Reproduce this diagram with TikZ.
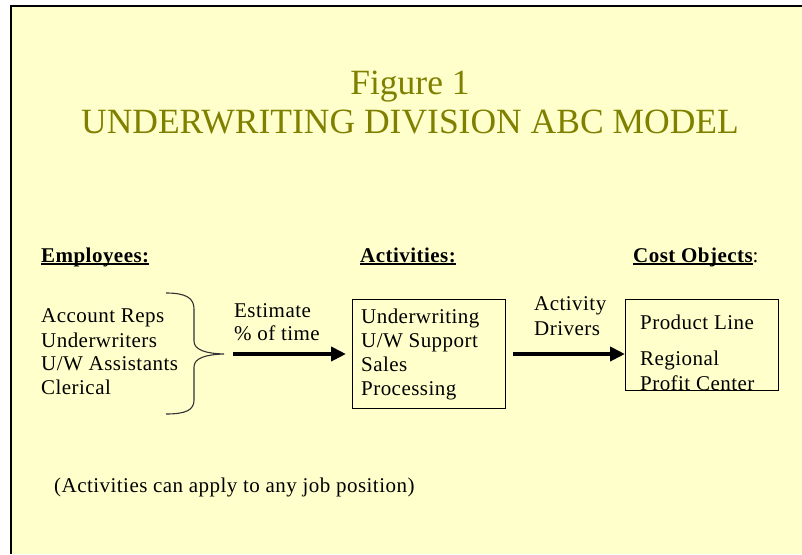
\documentclass[tikz,border=0pt]{standalone}
\usepackage{fontspec}
\setmainfont{Liberation Serif}
\newfontfamily\spacedserif[LetterSpace=2.2]{Liberation Serif}
\usetikzlibrary{arrows.meta}
\definecolor{bgyellow}{HTML}{FFFFCC}
\definecolor{titleolive}{HTML}{808000}
\newcommand\myul[1]{\setbox0\hbox{#1}\rlap{\rule[-2.5pt]{\wd0}{1.6pt}}\box0}
\begin{document}
\begin{tikzpicture}[x=1pt,y=-1pt,
  txt/.style={anchor=base west, inner sep=0pt, font=\spacedserif\fontsize{21}{24}\selectfont, text=black},
  head/.style={anchor=base west, inner sep=0pt, font=\spacedserif\fontsize{21}{24}\selectfont\bfseries, text=black},
  ttl/.style={anchor=base, inner sep=0pt, font=\fontsize{35.5}{40}\selectfont, text=titleolive},
  boxx/.style={draw=black, line width=0.9pt, inner sep=0pt, anchor=north west},
  flow/.style={line width=4pt, -{Triangle[length=15pt,width=14pt]}},
  bracestyle/.style={line width=1.1pt, draw=black!80}
]
\useasboundingbox (0,0) rectangle (802,554);
\fill[white] (0,0) rectangle (802,554);
\fill[bgyellow] (11,6) rectangle (802,554);
\draw[line width=2.5pt] (11,554) -- (11,6) -- (802,6);

% title
\node[ttl] (t1) at (410,94) {Figure 1};
\node[ttl] (t2) at (410,133) {UNDERWRITING DIVISION ABC MODEL};

% headings
\node[head] (h1) at (41,262) {\myul{Employees:}};
\node[head] (h2) at (360,262) {\myul{Activities:}};
\node[head] (h3) at (633,262) {\myul{Cost Objects}\mdseries:};

% employees
\node[txt] (e1) at (41,322) {Account Reps};
\node[txt] (e2) at (41,347) {Underwriters};
\node[txt] (e3) at (41,370) {U/W Assistants};
\node[txt] (e4) at (41,394) {Clerical};

% brace
\coordinate (tip) at (224,354);
\draw[bracestyle] (166,293) .. controls (186,293) and (194,298) .. (194,309)
  -- (194,341) .. controls (194,350) and (206,353.5) .. (tip)
  .. controls (206,354.5) and (194,358) .. (194,367)
  -- (194,400) .. controls (194,410) and (186,414) .. (166,414);

% activities box
\node[boxx, minimum width=153pt, minimum height=109pt] (act) at (352,299) {};
\node[txt] (a1) at (361,323) {Underwriting};
\node[txt] (a2) at (361,347) {U/W Support};
\node[txt] (a3) at (361,371) {Sales};
\node[txt] (a4) at (361,395) {Processing};

% cost objects box
\node[boxx, minimum width=153pt, minimum height=91pt] (cost) at (625,299) {};
\node[txt] (c1) at (640,329) {Product Line};
\node[txt] (c2) at (640,365) {Regional};
\node[txt] (c3) at (640,390) {Profit Center};

% arrow labels
\node[txt] (l1) at (234,317) {Estimate};
\node[txt] (l2) at (234,340) {\% of time};
\node[txt] (l3) at (534,310) {Activity};
\node[txt] (l4) at (534,335) {Drivers};

% arrows
\draw[flow, shorten <=9pt, shorten >=6pt] (tip) -- (tip -| act.west);
\draw[flow, shorten <=7pt] (tip -| act.east) -- (tip -| cost.west);

% footnote
\node[txt] (fn) at (54,492) {(Activities can apply to any job position)};
\end{tikzpicture}
\end{document}
